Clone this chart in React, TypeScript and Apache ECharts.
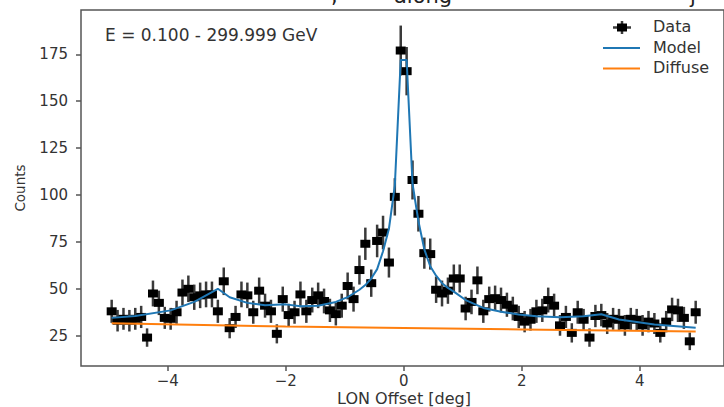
import React, { useEffect, useRef } from "react";
import * as echarts from "echarts";

const lonBins = [
  -4.95, -4.85, -4.75, -4.65, -4.55, -4.45, -4.35, -4.25, -4.15, -4.05,
  -3.95, -3.85, -3.75, -3.65, -3.55, -3.45, -3.35, -3.25, -3.15, -3.05,
  -2.95, -2.85, -2.75, -2.65, -2.55, -2.45, -2.35, -2.25, -2.15, -2.05,
  -1.95, -1.85, -1.75, -1.65, -1.55, -1.45, -1.35, -1.25, -1.15, -1.05,
  -0.95, -0.85, -0.75, -0.65, -0.55, -0.45, -0.35, -0.25, -0.15, -0.05,
  0.05, 0.15, 0.25, 0.35, 0.45, 0.55, 0.65, 0.75, 0.85, 0.95,
  1.05, 1.15, 1.25, 1.35, 1.45, 1.55, 1.65, 1.75, 1.85, 1.95,
  2.05, 2.15, 2.25, 2.35, 2.45, 2.55, 2.65, 2.75, 2.85, 2.95,
  3.05, 3.15, 3.25, 3.35, 3.45, 3.55, 3.65, 3.75, 3.85, 3.95,
  4.05, 4.15, 4.25, 4.35, 4.45, 4.55, 4.65, 4.75, 4.85, 4.95,
];

const counts = [
  38, 33, 34, 33, 34, 35, 24, 47.5, 42.5, 34.5,
  34, 37.5, 48, 50, 45.5, 46.5, 47, 47, 38, 54,
  29, 35, 47, 46.5, 37.5, 49, 41, 38, 26, 44.5,
  36, 37.5, 47, 38, 44, 46.5, 43.5, 38.5, 36.5, 41,
  51.5, 44.5, 60, 74, 53, 75.5, 80, 64, 99, 177,
  166, 108, 90, 69, 68.5, 49.5, 47.5, 49, 55.5, 55.5,
  39.5, 43, 54.5, 38, 44.5, 45, 44, 41.5, 39.5, 35,
  32.5, 33.5, 38, 38.5, 44, 41, 30.5, 35, 26.5, 37.5,
  33.5, 24, 35.5, 36, 31.5, 34, 33.5, 30.5, 34, 33.5,
  30.5, 32.5, 31.5, 26.5, 32.5, 39, 38.5, 34.5, 22, 37.5,
];

const modelLon = [
  -4.95, -4.55, -3.95, -3.55, -3.15, -2.95, -2.65, -2.35, -2.0, -1.75,
  -1.45, -1.15, -0.95, -0.85, -0.75, -0.65, -0.55, -0.45, -0.35, -0.25,
  -0.15, -0.05, 0.05, 0.15, 0.25, 0.35, 0.45, 0.55, 0.65, 0.75,
  0.85, 1.05, 1.35, 1.65, 1.95, 2.25, 2.65, 3.05, 3.35, 3.65,
  4.25, 4.95,
];
const modelCounts = [
  34.5, 35.5, 38.5, 43, 50, 45.5, 42.5, 41.2, 41.7, 40.7,
  41, 43, 45.6, 47.5, 49.5, 52, 55.5, 60.5, 70, 82,
  105, 172, 172, 106, 86, 71, 62, 57, 53, 50.5,
  48.5, 44, 39.8, 37.8, 36.3, 35.4, 34.8, 35.4, 36.4, 33.6,
  31, 29.3,
];

const diffuseLon = [-4.95, -2.0, 0, 2.0, 4.95];
const diffuseCounts = [31.6, 29.9, 29.1, 28.3, 27.2];

const xTicks = [-4, -2, 0, 2, 4];
const yTicks = [25, 50, 75, 100, 125, 150, 175];

const energyText = "E = 0.100 - 299.999 GeV";
const legendNames = ["Data", "Model", "Diffuse"];

const FONT = "DejaVu Sans";
const TXT = "#333";

export default function App() {
  const ref = useRef<HTMLDivElement>(null);
  useEffect(() => {
    if (!ref.current) return;
    const chart = echarts.init(ref.current, null, { renderer: "svg" });
    const pts = lonBins.map((x, i) => [x, counts[i]]);
    chart.setOption({
      animation: false,
      backgroundColor: "#fff",
      grid: {
        left: 81,
        right: -2,
        top: 10,
        bottom: 41,
        show: true,
        borderColor: "#555",
        borderWidth: 1.5,
        backgroundColor: "transparent",
      },
      xAxis: {
        type: "value",
        min: -5.47,
        max: 5.43,
        splitLine: { show: false },
        axisLine: { show: false, onZero: false },
        axisTick: { show: true, customValues: xTicks, length: 5, lineStyle: { color: "#555", width: 1.5 } },
        axisLabel: {
          customValues: xTicks,
          formatter: (v: number) => String(v).replace("-", "\u2212"),
          fontFamily: FONT,
          fontSize: 15,
          color: TXT,
          margin: 7,
        },
      },
      yAxis: {
        type: "value",
        min: 8.85,
        max: 198.6,
        splitLine: { show: false },
        axisLine: { show: false, onZero: false },
        axisTick: { show: true, customValues: yTicks, length: 5, lineStyle: { color: "#555", width: 1.5 } },
        axisLabel: {
          customValues: yTicks,
          fontFamily: FONT,
          fontSize: 15,
          color: TXT,
          margin: 13,
        },
      },
      series: [
        {
          type: "custom",
          name: "errors",
          data: pts,
          z: 2,
          renderItem: (_p: any, api: any) => {
            const x = api.value(0);
            const y = api.value(1);
            const e = Math.sqrt(y);
            const a = api.coord([x, y + e]);
            const b = api.coord([x, y - e]);
            return {
              type: "line",
              shape: { x1: a[0], y1: a[1], x2: b[0], y2: b[1] },
              style: { stroke: "#3a3a3a", lineWidth: 2.5 },
            };
          },
        },
        {
          type: "scatter",
          name: "Data",
          data: pts,
          symbol: "rect",
          symbolSize: [10, 8],
          itemStyle: { color: "#000", opacity: 1 },
          z: 3,
        },
        {
          type: "line",
          name: "Diffuse",
          data: diffuseLon.map((x, i) => [x, diffuseCounts[i]]),
          showSymbol: false,
          lineStyle: { color: "#ff7f0e", width: 2 },
          z: 4,
        },
        {
          type: "line",
          name: "Model",
          data: modelLon.map((x, i) => [x, modelCounts[i]]),
          showSymbol: false,
          lineStyle: { color: "#1f77b4", width: 2 },
          z: 5,
        },
      ],
      graphic: [
        { type: "text", left: 331, top: -15, style: { text: ",", font: `21px '${FONT}'`, fill: "#222" } },
        { type: "text", left: 394, top: -15, style: { text: "along", font: `21px '${FONT}'`, fill: "#222" } },
        { type: "text", left: 690, top: -15, style: { text: "j", font: `21px '${FONT}'`, fill: "#222" } },
        {
          type: "text",
          left: 105,
          top: 26,
          style: { text: energyText, font: `17px '${FONT}'`, fill: TXT },
        },
        { type: "line", shape: { x1: 613, y1: 27.5, x2: 631, y2: 27.5 }, style: { stroke: "#3a3a3a", lineWidth: 2.5 } },
        { type: "line", shape: { x1: 622, y1: 21, x2: 622, y2: 34 }, style: { stroke: "#3a3a3a", lineWidth: 2.5 } },
        { type: "rect", shape: { x: 617, y: 23.5, width: 10, height: 8 }, style: { fill: "#000" } },
        { type: "line", shape: { x1: 603, y1: 48, x2: 640, y2: 48 }, style: { stroke: "#1f77b4", lineWidth: 2 } },
        { type: "line", shape: { x1: 603, y1: 68.5, x2: 640, y2: 68.5 }, style: { stroke: "#ff7f0e", lineWidth: 2 } },
        { type: "text", left: 653, top: 18, style: { text: legendNames[0], font: `16px '${FONT}'`, fill: TXT } },
        { type: "text", left: 653, top: 39, style: { text: legendNames[1], font: `16px '${FONT}'`, fill: TXT } },
        { type: "text", left: 653, top: 59.5, style: { text: legendNames[2], font: `16px '${FONT}'`, fill: TXT } },
        {
          type: "text",
          x: 404,
          y: 398,
          style: { text: "LON Offset [deg]", font: `16px '${FONT}'`, fill: TXT, align: "center", verticalAlign: "middle" },
        },
        {
          type: "text",
          x: 20,
          y: 188,
          rotation: Math.PI / 2,
          style: { text: "Counts", font: `13.5px '${FONT}'`, fill: TXT, align: "center", verticalAlign: "middle" },
        },
      ],
    });
    return () => chart.dispose();
  }, []);
  return (
    <div
      ref={ref}
      style={{ position: "fixed", left: 0, top: 0, width: 724, height: 407, overflow: "hidden", background: "#fff" }}
    />
  );
}
